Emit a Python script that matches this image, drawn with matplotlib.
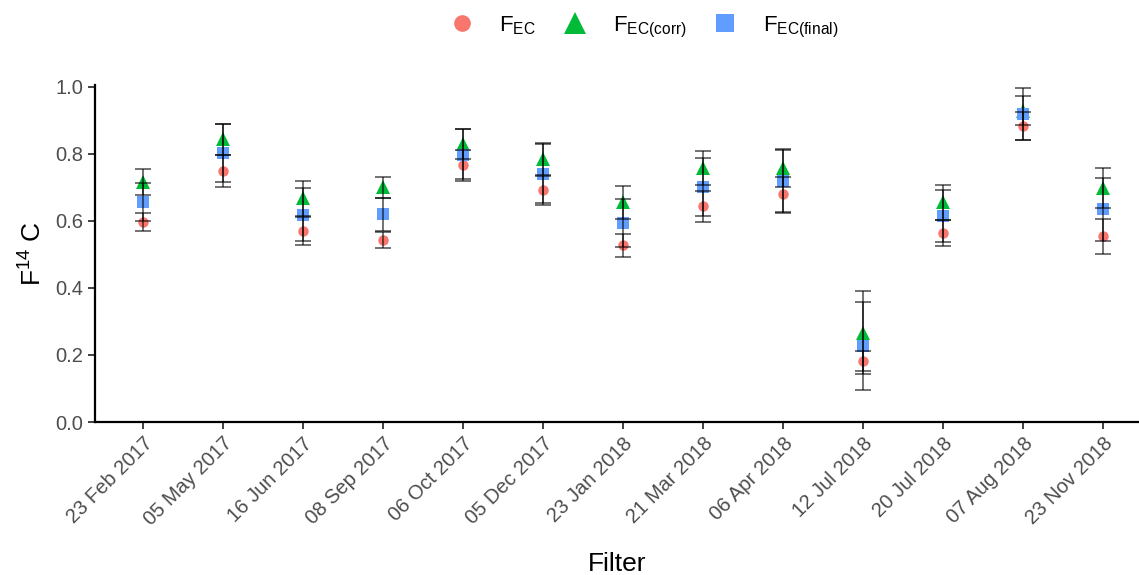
import numpy as np
from matplotlib import pyplot as plt

plt.rcParams['font.family'] = ['Liberation Sans', 'DejaVu Sans']
plt.rcParams['mathtext.default'] = 'regular'

# filters (sampling dates)
filters = ['23 Feb 2017', '05 May 2017', '16 Jun 2017', '08 Sep 2017', '06 Oct 2017',
           '05 Dec 2017', '23 Jan 2018', '21 Mar 2018', '06 Apr 2018', '12 Jul 2018',
           '20 Jul 2018', '07 Aug 2018', '23 Nov 2018']

# F14C values and uncertainties
fec = [0.597, 0.749, 0.571, 0.544, 0.768, 0.691, 0.527, 0.643, 0.679, 0.183, 0.564, 0.883, 0.554]
fec_err = [0.027, 0.047, 0.042, 0.024, 0.043, 0.044, 0.035, 0.047, 0.053, 0.030, 0.039, 0.043, 0.052]
fec_corr = [0.716, 0.843, 0.667, 0.700, 0.829, 0.785, 0.656, 0.758, 0.757, 0.267, 0.655, 0.929, 0.698]
corr_err = [0.038, 0.046, 0.052, 0.032, 0.045, 0.047, 0.049, 0.050, 0.056, 0.123, 0.052, 0.043, 0.059]
fec_final = [0.656, 0.803, 0.619, 0.620, 0.797, 0.740, 0.593, 0.701, 0.718, 0.226, 0.614, 0.919, 0.634]
final_err = [0.056, 0.086, 0.080, 0.049, 0.077, 0.088, 0.072, 0.087, 0.093, 0.131, 0.077, 0.078, 0.095]

x = np.arange(len(filters))

fig = plt.figure(figsize=(11.39, 5.75), dpi=100)
ax = fig.add_axes([0.0834, 0.266, 0.9166, 0.586])

h1, = ax.plot(x, fec, 'o', color='#F8766D', ms=7.5, mew=0, label='$F_{EC}$', zorder=3)
h2, = ax.plot(x, fec_corr, '^', color='#00BA38', ms=10, mew=0, label='$F_{EC(corr)}$', zorder=3)
h3, = ax.plot(x, fec_final, 's', color='#619CFF', ms=8.5, mew=0, label='$F_{EC(final)}$', zorder=3)

for vals, errs in [(fec, fec_err), (fec_corr, corr_err), (fec_final, final_err)]:
    ax.errorbar(x, vals, yerr=errs, fmt='none', ecolor='black', alpha=0.7,
                elinewidth=1.1, capsize=5.5, capthick=1.1, zorder=4)

ax.set_xlim(-0.6, 12.45)
ax.set_ylim(0, 1.005)
ax.set_yticks([0.0, 0.2, 0.4, 0.6, 0.8, 1.0])
ax.set_yticklabels(['0.0', '0.2', '0.4', '0.6', '0.8', '1.0'])
ax.set_xticks(x)
ax.set_xticklabels(filters, rotation=45, ha='right', rotation_mode='anchor')

for s in ['top', 'right']:
    ax.spines[s].set_visible(False)
for s in ['left', 'bottom']:
    ax.spines[s].set_linewidth(1.6)
ax.tick_params(axis='both', labelsize=14.5, labelcolor='#4d4d4d', color='#333333',
               length=5, width=1.3)

ax.set_xlabel('Filter', fontsize=19, labelpad=16)
ax.set_ylabel('F$^{14}$ C', fontsize=19, labelpad=6)

fig.legend(handles=[h1, h2, h3], loc='upper center', bbox_to_anchor=(0.561, 1.01),
           ncol=3, frameon=False, fontsize=16, handletextpad=0.7, columnspacing=0.75,
           markerscale=1.6)

fig.savefig('out.png', dpi=100)
